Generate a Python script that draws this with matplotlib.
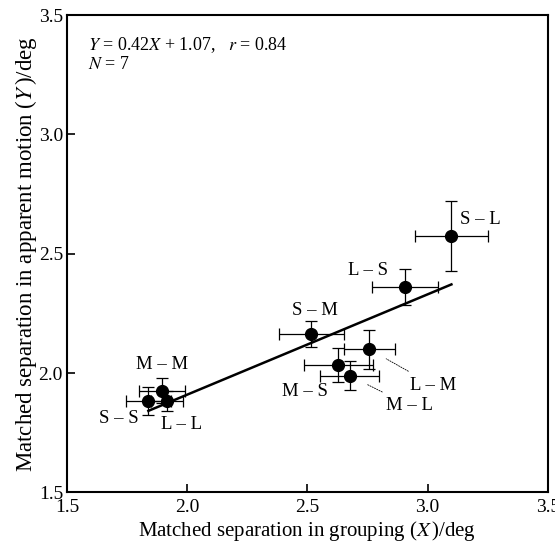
import numpy as np
import matplotlib
matplotlib.use('Agg')
import matplotlib.pyplot as plt

plt.rcParams['font.family'] = ['Liberation Serif', 'DejaVu Serif']
plt.rcParams['mathtext.fontset'] = 'stix'

# conditions and measured values (deg)
labels = ['S – S', 'M – M', 'L – L', 'S – M', 'M – S', 'M – L', 'L – M', 'L – S', 'S – L']
x_vals = [1.838, 1.894, 1.916, 2.516, 2.628, 2.676, 2.757, 2.905, 3.099]
y_vals = [1.884, 1.927, 1.884, 2.163, 2.035, 1.989, 2.100, 2.360, 2.573]
x_err = [0.094, 0.095, 0.066, 0.135, 0.143, 0.123, 0.106, 0.138, 0.152]
y_err = [0.058, 0.052, 0.042, 0.055, 0.072, 0.060, 0.082, 0.075, 0.146]

slope, intercept = 0.42, 1.07
ticks = [1.5, 2.0, 2.5, 3.0, 3.5]

# label offsets in pixels (dx, dy) and alignment
label_pos = {
    'S – S': (-30, -18, 'center'),
    'M – M': (0, 26, 'center'),
    'L – L': (14, -24, 'center'),
    'S – M': (4, 24, 'center'),
    'M – S': (-33, -27, 'center'),
    'M – L': (60, -30, 'center'),
    'L – M': (64, -36, 'center'),
    'L – S': (-37, 17, 'center'),
    'S – L': (9, 17, 'left'),
}
with_leader = {'M – L', 'L – M'}

fig = plt.figure(figsize=(5.55, 5.46), dpi=100)
ax = fig.add_axes([0.121, 0.098, 0.866, 0.8745])

ax.errorbar(x_vals, y_vals, xerr=x_err, yerr=y_err, fmt='o', color='black',
            markersize=8.5, elinewidth=0.9, capsize=4.5, capthick=0.9, zorder=3)

xl = np.array([min(x_vals), max(x_vals)])
ax.plot(xl, slope * xl + intercept, color='black', lw=1.8, zorder=2)

for lab, x, y in zip(labels, x_vals, y_vals):
    dx, dy, ha = label_pos[lab]
    if lab in with_leader:
        ax.annotate(lab, xy=(x, y), xytext=(dx, dy), textcoords='offset pixels',
                    ha=ha, va='center', fontsize=13.5,
                    arrowprops=dict(arrowstyle='-', linestyle=(0, (1.5, 1.5)),
                                    lw=0.6, color='black', shrinkA=4, shrinkB=14))
    else:
        ax.annotate(lab, xy=(x, y), xytext=(dx, dy), textcoords='offset pixels',
                    ha=ha, va='center', fontsize=13.5)

ax.text(1.585, 3.376, '$Y$ = 0.42$X$ + 1.07,   $r$ = 0.84', fontsize=13, va='center')
ax.text(1.585, 3.292, '$N$ = 7', fontsize=13, va='center')

ax.set_xlim(1.5, 3.5)
ax.set_ylim(1.5, 3.5)
ax.set_xticks(ticks)
ax.set_yticks(ticks)
ax.set_xticklabels([f'{t:.1f}' for t in ticks])
ax.set_yticklabels([f'{t:.1f}' for t in ticks])
ax.tick_params(direction='in', length=6, width=1.2, labelsize=14, pad=3)
ax.tick_params(axis='x', pad=5)
for s in ax.spines.values():
    s.set_linewidth(1.5)

ax.set_xlabel(r'Matched separation in grouping ($X\,$)/deg', fontsize=15, labelpad=2)
ax.set_ylabel(r'Matched separation in apparent motion ($Y\,$)/deg', fontsize=16.5, labelpad=0)

fig.savefig('out.png', dpi=100)
